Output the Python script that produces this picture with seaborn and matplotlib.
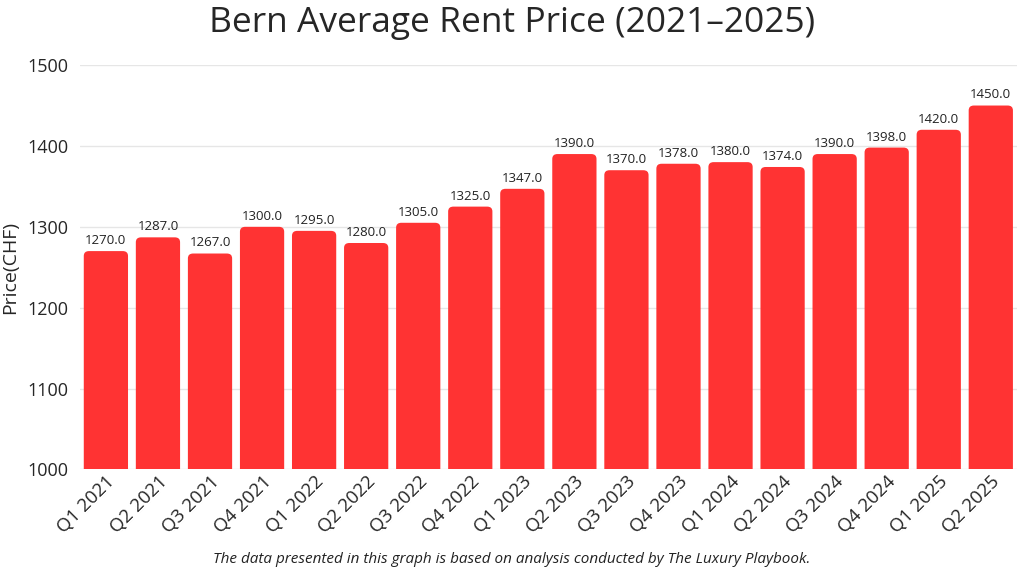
import matplotlib.pyplot as plt
import seaborn as sns
import pandas as pd
from matplotlib.patches import FancyBboxPatch

# ======= DATA ========= #
quarters = [
    "Q1 2021", "Q2 2021", "Q3 2021", "Q4 2021",
    "Q1 2022", "Q2 2022", "Q3 2022", "Q4 2022",
    "Q1 2023", "Q2 2023", "Q3 2023", "Q4 2023",
    "Q1 2024", "Q2 2024", "Q3 2024", "Q4 2024",
    "Q1 2025", "Q2 2025",
]
prices = [
    1270.0, 1287.0, 1267.0, 1300.0,
    1295.0, 1280.0, 1305.0, 1325.0,
    1347.0, 1390.0, 1370.0, 1378.0,
    1380.0, 1374.0, 1390.0, 1398.0,
    1420.0, 1450.0,
]
y_ticks = [1000, 1100, 1200, 1300, 1400, 1500]

df = pd.DataFrame({"Quarter": quarters, "Price": prices})

# ======= FIGURE ========= #
sns.set_style("white")
plt.rcParams["font.family"] = ["Open Sans", "DejaVu Sans"]

fig = plt.figure(figsize=(10.24, 5.76), dpi=100)
ax = fig.add_axes([0.078, 0.185, 0.915, 0.702])

bar_color = "#FF3333"
ax = sns.barplot(data=df, x="Quarter", y="Price", color=bar_color,
                 width=0.85, saturation=1, ax=ax)

ax.set_ylim(1000, 1500)
ax.set_xlim(-0.5, len(quarters) - 0.5)

# rounded tops: swap each bar for a rounded box
for patch, val in zip(list(ax.patches), prices):
    x0 = patch.get_x()
    w = patch.get_width()
    patch.set_visible(False)
    box = FancyBboxPatch(
        (x0, 980), w, patch.get_height() + patch.get_y() - 980,
        boxstyle="round,pad=0,rounding_size=0.1",
        mutation_aspect=60,
        facecolor=bar_color, edgecolor="none",
        clip_on=True, zorder=2,
    )
    ax.add_patch(box)
    ax.text(x0 + w / 2, val + 5, f"{val:.1f}", ha="center", va="bottom",
            fontsize=9.5, color="#222222", zorder=3)

# ======= STYLING ========= #
ax.set_yticks(y_ticks)
ax.tick_params(axis="y", labelsize=13, length=0, pad=8)
ax.tick_params(axis="x", labelsize=13.5, length=0, pad=2)
plt.setp(ax.get_xticklabels(), rotation=45, ha="right", rotation_mode="anchor")

ax.yaxis.grid(True, color="#e6e6e6", linewidth=1)
ax.set_axisbelow(True)

ax.set_xlabel("")
ax.set_ylabel("Price(CHF)", fontsize=14, labelpad=6)

sns.despine(left=True, bottom=True)

fig.suptitle("Bern Average Rent Price (2021–2025)", fontsize=25.5, y=0.99)
fig.text(0.5, 0.016,
         "The data presented in this graph is based on analysis conducted by The Luxury Playbook.",
         ha="center", va="bottom", fontsize=11, style="italic", color="#222222")

fig.savefig("out.png", dpi=100)
